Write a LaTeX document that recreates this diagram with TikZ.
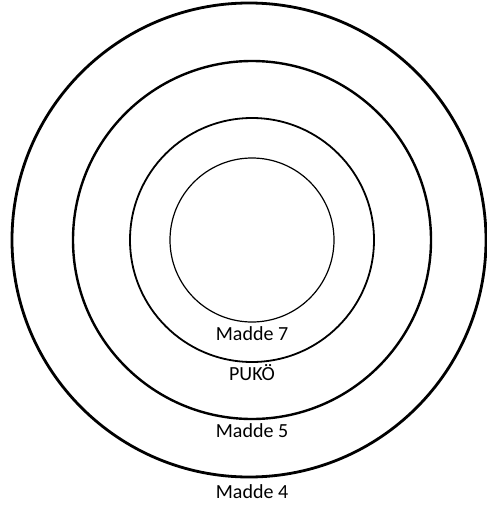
\documentclass[tikz,border=0pt]{standalone}
\usepackage{fontspec}
\setmainfont{Carlito}
\usepackage{tikz}

\begin{document}
\begin{tikzpicture}[
x=1pt, y=-1pt,
ring/.style={draw=black},
lbl/.style={anchor=base, inner sep=0pt, font=\fontsize{20}{24}\selectfont}
]
\useasboundingbox (0,0) rectangle (487,506);
\fill[white] (0,0) rectangle (487,506);
% rings, outermost first
\draw[ring, line width=2.8pt] (249,240) circle (237);
\draw[ring, line width=2.4pt] (252,240) circle (179);
\draw[ring, line width=1.8pt] (252,240) circle (122);
\draw[ring, line width=1.2pt] (252,240) circle (82);
% labels
\node[lbl] (m7) at (252,340) {Madde 7};
\node[lbl] (puko) at (252,380) {PUKÖ};
\node[lbl] (m5) at (252,437) {Madde 5};
\node[lbl] (m4) at (252,498) {Madde 4};
\end{tikzpicture}
\end{document}
